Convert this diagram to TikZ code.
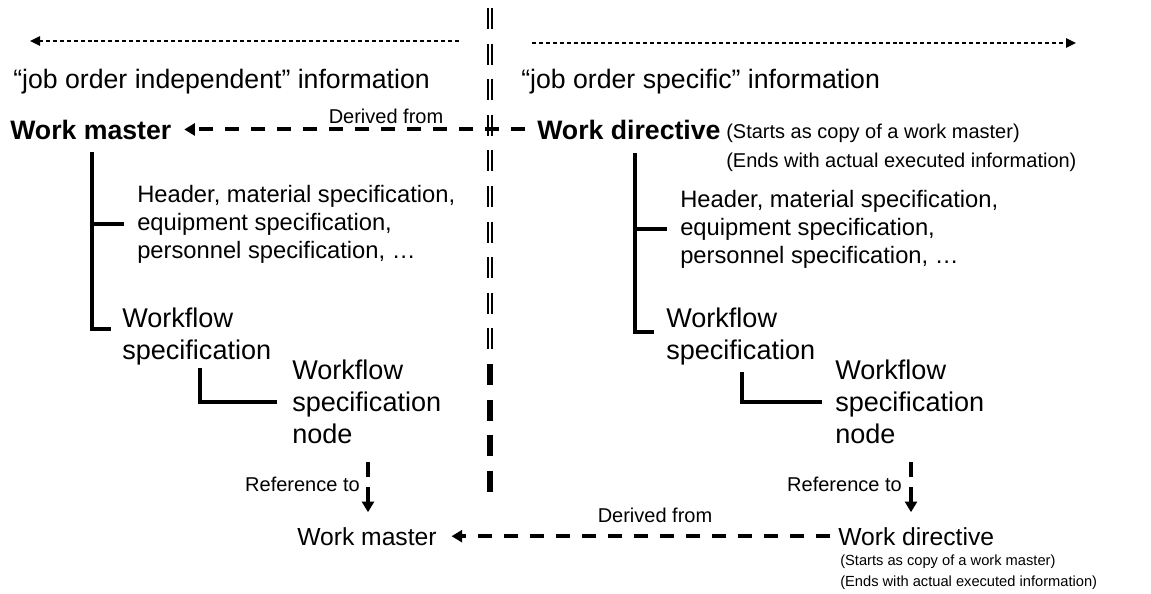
\documentclass[tikz,border=0pt]{standalone}
\usepackage{fontspec}
\setmainfont{Liberation Sans}
\usetikzlibrary{arrows.meta}

\tikzset{
  infotext/.style={font=\fontsize{20}{24}\selectfont, inner sep=0pt, anchor=base west},
  headname/.style={font=\fontsize{20}{24}\selectfont\bfseries, inner sep=0pt, anchor=base west},
  remarktext/.style={font=\fontsize{15}{18}\selectfont, inner sep=0pt, anchor=base west},
  linktext/.style={font=\fontsize{15}{18}\selectfont, inner sep=0pt, anchor=base},
  partstext/.style={font=\fontsize{17.8}{21}\selectfont, align=left, inner sep=0pt, anchor=west},
  flowtext/.style={font=\fontsize{20.3}{24}\selectfont, align=left, inner sep=0pt, anchor=west},
  smallname/.style={font=\fontsize{18.5}{22}\selectfont, inner sep=0pt, anchor=base west},
  smallremark/.style={font=\fontsize{11}{14}\selectfont, inner sep=0pt, anchor=base west},
  treeline/.style={line width=3pt},
  scopearrow/.style={line width=1.1pt, dash pattern=on 3pt off 2.2pt, -{Triangle[length=7.5pt,width=7pt]}},
  derivedarrow/.style={line width=3pt, dash pattern=on 10.5pt off 9pt, -{Triangle[length=8pt,width=9pt]}},
  refarrow/.style={line width=3.6pt, dash pattern=on 11pt off 8pt, -{Triangle[length=8pt,width=9pt]}},
  divider/.style={line width=4.9pt, dash pattern=on 15.75pt off 10.95pt}
}

\begin{document}
\begin{tikzpicture}[x=0.75pt,y=-0.75pt]
  \useasboundingbox (0,0) rectangle (1151,593);

  % scope of the two halves
  \coordinate (indepFrom) at (459,41);
  \coordinate (indepTo) at (30,41);
  \coordinate (specFrom) at (532,43);
  \coordinate (specTo) at (1076,43);
  \draw[scopearrow] (indepFrom) -- (indepTo);
  \draw[scopearrow] (specFrom) -- (specTo);
  \node[infotext] (indep) at (13,88) {“job order independent” information};
  \node[infotext] (spec) at (521,88) {“job order specific” information};

  % divider
  \coordinate (divTop) at (490,8);
  \coordinate (divMid) at (490,349.4);
  \coordinate (divLow) at (490,364);
  \coordinate (divBot) at (490,492);
  \draw[divider, line width=1.9pt, double, double distance=1.2pt] (divTop) -- (divMid);
  \draw[divider] (divLow) -- (divBot);

  % work master and work directive
  \node[headname] (master) at (10,139) {Work master};
  \node[headname] (directive) at (537,139) {Work directive};
  \node[remarktext] (startsTop) at (726,138) {(Starts as copy of a work master)};
  \node[remarktext] (endsTop) at (726,167) {(Ends with actual executed information)};
  \draw[derivedarrow, shorten <=9pt, shorten >=9.5pt] (directive.west) -- (master.east);
  \node[linktext] (derivedTop) at (386,123) {Derived from};

  % left tree
  \node[partstext] (partsL) at (137,224) {Header, material specification,\\ equipment specification,\\ personnel specification, …};
  \node[flowtext] (flowL) at (122,336) {Workflow\\ specification};
  \node[flowtext] (nodeL) at (292,402) {Workflow\\ specification\\ node};
  \coordinate (trunkL) at (92,152);
  \coordinate (subL) at (200,368);
  \draw[treeline, shorten >=8pt] (trunkL) |- ([yshift=5pt]flowL.west);
  \draw[treeline, shorten >=9.5pt] (trunkL |- partsL.west) -- (partsL.west);
  \draw[treeline, shorten >=11pt] (subL) |- (nodeL.west);

  % right tree
  \node[partstext] (partsR) at (680,229) {Header, material specification,\\ equipment specification,\\ personnel specification, …};
  \node[flowtext] (flowR) at (666,336) {Workflow\\ specification};
  \node[flowtext] (nodeR) at (835,402) {Workflow\\ specification\\ node};
  \coordinate (trunkR) at (635,153);
  \coordinate (subR) at (742,372);
  \draw[treeline, shorten >=9pt] (trunkR) |- ([yshift=3pt]flowR.west);
  \draw[treeline, shorten >=9.5pt] (trunkR |- partsR.west) -- (partsR.west);
  \draw[treeline, shorten >=10pt] (subR) |- (nodeR.west);

  % referenced work master and work directive
  \node[smallname] (masterB) at (297,545) {Work master};
  \node[smallname] (directiveB) at (838,545) {Work directive};
  \node[smallremark] (startsB) at (840,565) {(Starts as copy of a work master)};
  \node[smallremark] (endsB) at (840,586) {(Ends with actual executed information)};
  \draw[derivedarrow, shorten <=6pt, shorten >=11pt] (directiveB.west) -- (masterB.east);
  \node[linktext] (derivedB) at (655,522) {Derived from};

  \coordinate (refFromL) at (368,462);
  \coordinate (refFromR) at (911,462);
  \draw[refarrow, shorten >=11pt] (refFromL) -- (refFromL |- masterB.north);
  \draw[refarrow, shorten >=11pt] (refFromR) -- (refFromR |- directiveB.north);
  \node[linktext, anchor=base east] (refL) at (360,491) {Reference to};
  \node[linktext, anchor=base east] (refR) at (902,491) {Reference to};
\end{tikzpicture}
\end{document}
